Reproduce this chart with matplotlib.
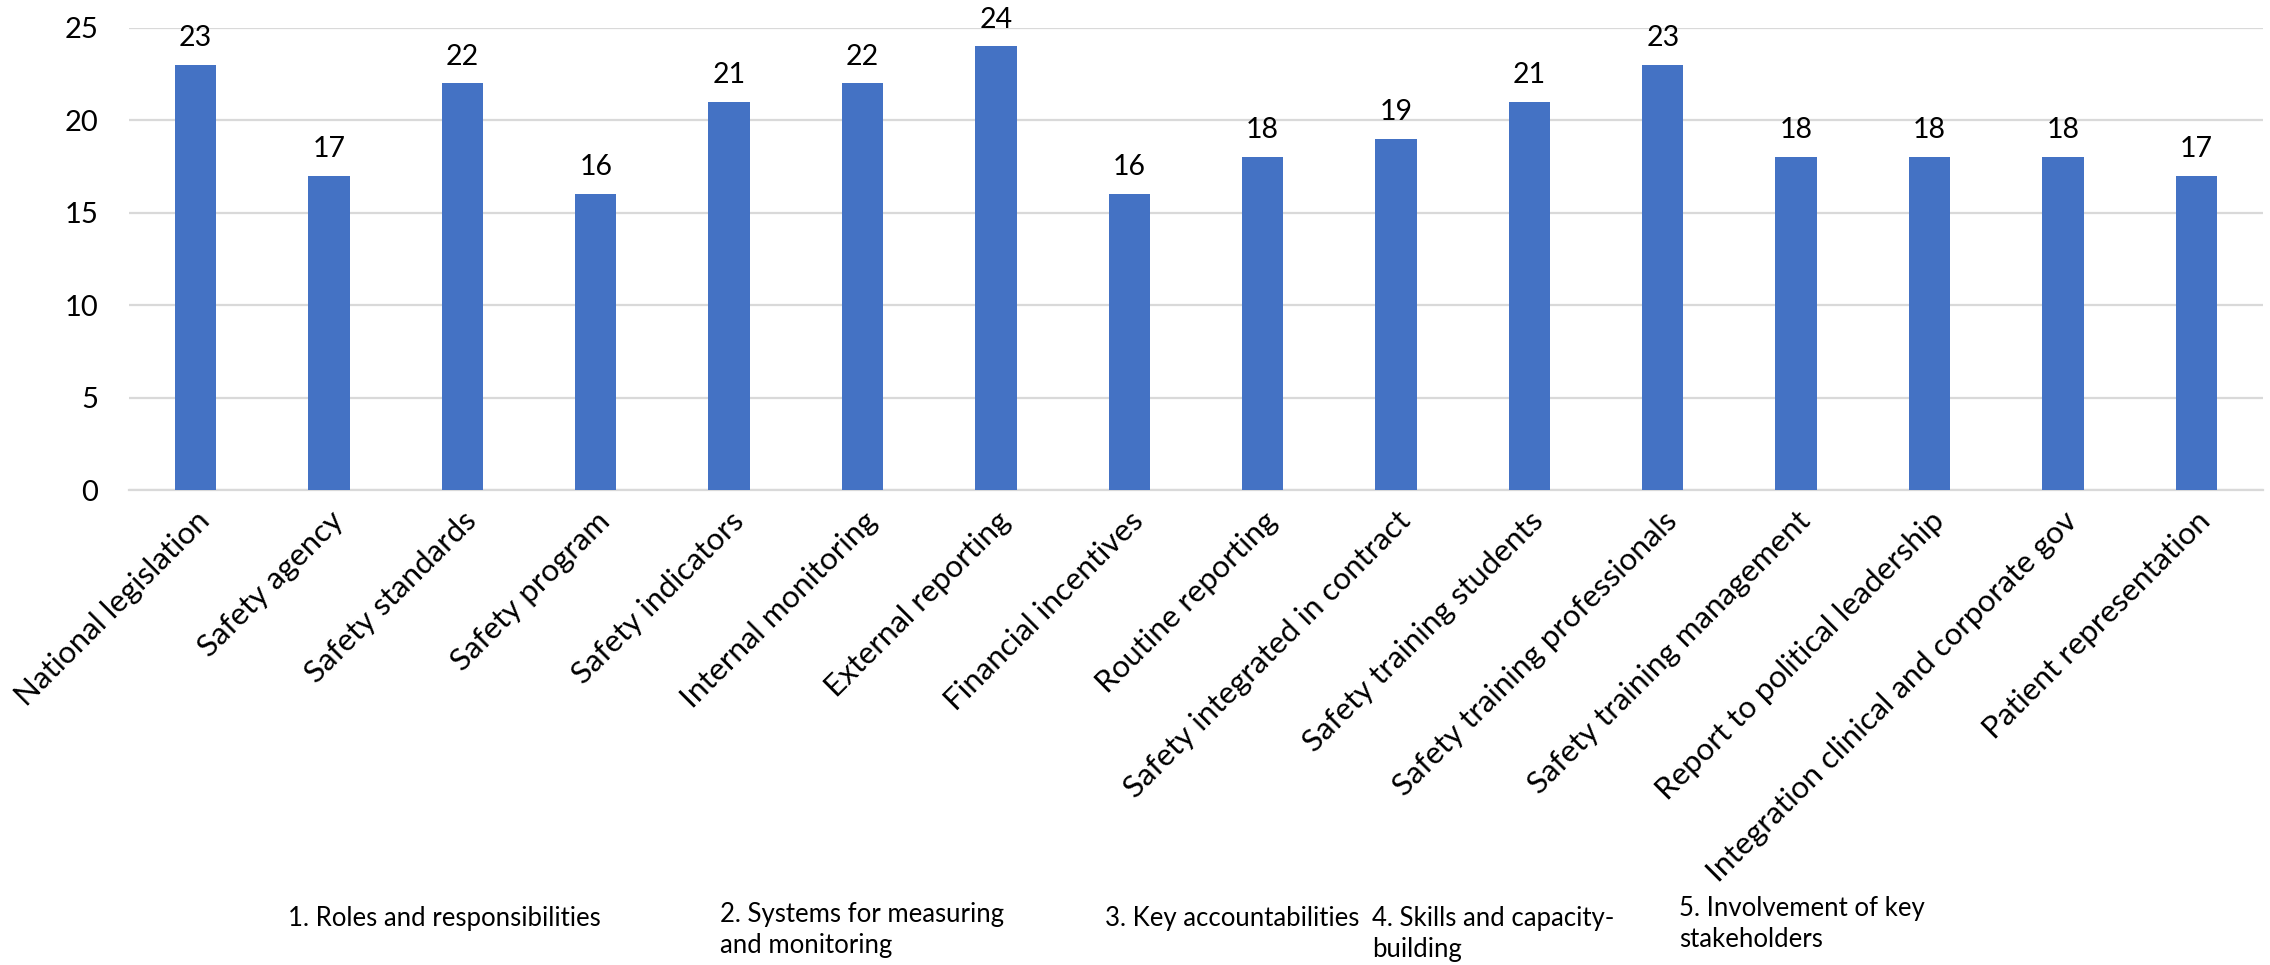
import matplotlib
matplotlib.use("Agg")
import matplotlib.pyplot as plt
import matplotlib.transforms as mtransforms
import numpy as np

categories = [
    "National legislation", "Safety agency", "Safety standards", "Safety program",
    "Safety indicators", "Internal monitoring", "External reporting",
    "Financial incentives", "Routine reporting", "Safety integrated in contract",
    "Safety training students", "Safety training professionals",
    "Safety training management", "Report to political leadership",
    "Integration clinical and corporate gov", "Patient representation",
]
values = [23, 17, 22, 16, 21, 22, 24, 16, 18, 19, 21, 23, 18, 18, 18, 17]

group_labels = [
    "1. Roles and responsibilities",
    "2. Systems for measuring\nand monitoring",
    "3. Key accountabilities",
    "4. Skills and capacity-\nbuilding",
    "5. Involvement of key\nstakeholders",
]

BAR_COLOR = "#4472C4"
GRID_COLOR = "#D9D9D9"
TEXT_COLOR = "#000000"

plt.rcParams["font.family"] = ["Lato", "DejaVu Sans"]

fig = plt.figure(figsize=(22.7, 9.65), dpi=100)
ax = fig.add_axes([0.0568, 0.4922, 0.9401, 0.4788])

x = np.arange(len(categories))
bars = ax.bar(x, values, width=0.31, color=BAR_COLOR, zorder=3)

for rect, v in zip(bars, values):
    ax.annotate(f"{v}", (rect.get_x() + rect.get_width() / 2, v),
                xytext=(0, 10), textcoords="offset points",
                ha="center", va="bottom", fontsize=20.5, color=TEXT_COLOR)

ax.set_xlim(-0.5, len(categories) - 0.5)
ax.set_ylim(0, 25)
ax.set_yticks(np.arange(0, 26, 5))
ax.yaxis.grid(True, color=GRID_COLOR, linewidth=1.6, zorder=0)
ax.set_axisbelow(True)
for side in ("top", "right", "left"):
    ax.spines[side].set_visible(False)
ax.spines["bottom"].set_color(GRID_COLOR)
ax.spines["bottom"].set_linewidth(1.6)
ax.tick_params(axis="both", length=0, colors=TEXT_COLOR)
ax.tick_params(axis="y", pad=22, labelsize=21)

ax.set_xticks(x)
ax.set_xticklabels(categories, rotation=45, ha="right", rotation_mode="anchor",
                   fontsize=22.5)
ax.tick_params(axis="x", pad=12)

# group captions below the rotated category labels
group_x = [0.69, 3.93, 6.82, 8.82, 11.12]
group_y = [-0.900, -0.892, -0.900, -0.900, -0.879]
trans = mtransforms.blended_transform_factory(ax.transData, ax.transAxes)
for gx, gy, label in zip(group_x, group_y, group_labels):
    ax.text(gx, gy, label, transform=trans, ha="left", va="top",
            fontsize=18.5, color=TEXT_COLOR, linespacing=1.3)

fig.savefig("out.png", dpi=100)
